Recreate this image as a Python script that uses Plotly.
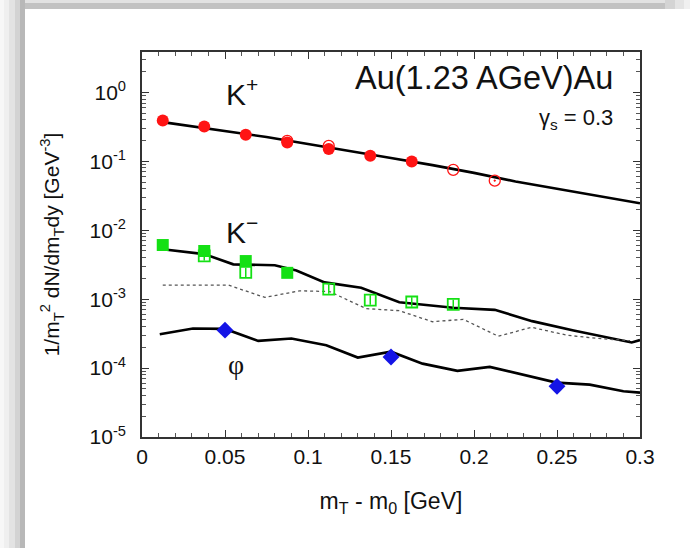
import plotly.graph_objects as go

# ---------------- data ----------------
kp_fill_x = [0.0125, 0.0375, 0.0625, 0.0875, 0.1125, 0.1375, 0.1625]
kp_fill_y = [0.39, 0.32, 0.242, 0.187, 0.151, 0.12, 0.099]
kp_open_x = [0.0875, 0.1125, 0.1875]
kp_open_y = [0.198, 0.167, 0.075]
kp_dot_x = [0.2125]
kp_dot_y = [0.0524]

kp_line_x = [0.0125, 0.025, 0.05, 0.075, 0.1, 0.125, 0.15, 0.175, 0.2, 0.225, 0.25, 0.275, 0.3]
kp_line_y = [0.37, 0.335, 0.28, 0.225, 0.178, 0.142, 0.112, 0.088, 0.068, 0.051, 0.040, 0.032, 0.0246]

km_fill_x = [0.0125, 0.0375, 0.0625, 0.0875]
km_fill_y = [0.0061, 0.0050, 0.00357, 0.00241]
km_open_x = [0.0375, 0.0625, 0.1125, 0.1375, 0.1625, 0.1875]
km_open_y = [0.00426, 0.00244, 0.0014, 0.00097, 0.00091, 0.00084]

km_line_x = [0.0125, 0.0375, 0.055, 0.08, 0.093, 0.11, 0.132, 0.155, 0.1875, 0.2125, 0.235, 0.26, 0.295, 0.3]
km_line_y = [0.0053, 0.0045, 0.0032, 0.0031, 0.0026, 0.00175, 0.00146, 0.0009, 0.00075, 0.0007, 0.00048, 0.00035, 0.000235, 0.000255]

km_dot_x = [0.0125, 0.052, 0.074, 0.095, 0.113, 0.135, 0.155, 0.175, 0.1935, 0.2146, 0.2347, 0.256, 0.274, 0.294]
km_dot_y = [0.0016, 0.0016, 0.00106, 0.00132, 0.00129, 0.00073, 0.00068, 0.00047, 0.00051, 0.00029, 0.00039, 0.0003, 0.00027, 0.00025]

phi_x = [0.05, 0.15, 0.25]
phi_y = [0.000355, 0.000145, 0.0000543]

phi_line_x = [0.0107, 0.0307, 0.05, 0.07, 0.09, 0.111, 0.130, 0.15, 0.169, 0.19, 0.2095, 0.2497, 0.2697, 0.29, 0.3]
phi_line_y = [0.00031, 0.000375, 0.00037, 0.000248, 0.000268, 0.000214, 0.000142, 0.000173, 0.000116,
              0.0000912, 0.000104, 0.0000615, 0.0000575, 0.000046, 0.000044]

y_exponents = [-5, -4, -3, -2, -1, 0]
x_tick_step = 0.05

# ---------------- figure ----------------
RED = "#ff1414"
GREEN = "#14e014"
BLUE = "#1414e6"
FONT = "Liberation Sans, Arial, sans-serif"

fig = go.Figure()

# theory lines
fig.add_trace(go.Scatter(x=kp_line_x, y=kp_line_y, mode="lines",
                         line=dict(color="black", width=2.6)))
fig.add_trace(go.Scatter(x=km_line_x, y=km_line_y, mode="lines",
                         line=dict(color="black", width=2.6)))
fig.add_trace(go.Scatter(x=km_dot_x, y=km_dot_y, mode="lines",
                         line=dict(color="#555555", width=1.3, dash="dot")))
fig.add_trace(go.Scatter(x=phi_line_x, y=phi_line_y, mode="lines",
                         line=dict(color="black", width=2.6)))

# K+ data
fig.add_trace(go.Scatter(x=kp_fill_x, y=kp_fill_y, mode="markers",
                         marker=dict(symbol="circle", size=12, color=RED)))
fig.add_trace(go.Scatter(x=kp_open_x, y=kp_open_y, mode="markers",
                         marker=dict(symbol="circle-open", size=11, color=RED,
                                     line=dict(width=1.3, color=RED))))
fig.add_trace(go.Scatter(x=kp_dot_x, y=kp_dot_y, mode="markers",
                         marker=dict(symbol="circle-open-dot", size=11, color=RED,
                                     line=dict(width=1.3, color=RED))))

# K- data
fig.add_trace(go.Scatter(x=km_fill_x, y=km_fill_y, mode="markers",
                         marker=dict(symbol="square", size=12, color=GREEN)))
fig.add_trace(go.Scatter(x=km_open_x, y=km_open_y, mode="markers",
                         marker=dict(symbol="square-open", size=11, color=GREEN,
                                     line=dict(width=1.8, color=GREEN)),
                         error_y=dict(type="data", symmetric=False,
                                      array=[v * 0.17 for v in km_open_y],
                                      arrayminus=[v * 0.145 for v in km_open_y],
                                      color=GREEN, thickness=1.5, width=0)))

# phi data
fig.add_trace(go.Scatter(x=phi_x, y=phi_y, mode="markers",
                         marker=dict(symbol="diamond", size=13, color=BLUE)))

# axes
minor_y = [m * 10 ** e for e in y_exponents[:-1] for m in range(2, 10)] + [2, 3]
fig.update_xaxes(
    range=[0, 0.3], tick0=0, dtick=x_tick_step, automargin=False,
    ticks="inside", ticklen=7, tickwidth=1.2, tickcolor="#333",
    showline=True, linecolor="#333", linewidth=1.6, mirror="allticks",
    showgrid=False, zeroline=False,
    minor=dict(dtick=0.01, ticks="inside", ticklen=4, tickcolor="#555", tickwidth=1, showgrid=False),
    tickfont=dict(family=FONT, size=21, color="#111"),
    title=dict(text="m<sub>T</sub> - m<sub>0</sub> [GeV]", standoff=26,
               font=dict(family=FONT, size=23, color="#111")),
)
fig.update_yaxes(
    type="log", range=[-5, 0.586], automargin=False,
    tickmode="array", tickvals=[10 ** e for e in y_exponents],
    ticktext=["10<sup>%d</sup>" % e for e in y_exponents],
    ticks="inside", ticklen=7, tickwidth=1.2, tickcolor="#333",
    showline=True, linecolor="#333", linewidth=1.6, mirror="allticks",
    showgrid=False, zeroline=False, ticklabelstandoff=10,
    minor=dict(tickmode="array", tickvals=minor_y, ticks="inside", ticklen=4,
               tickcolor="#555", tickwidth=1, showgrid=False),
    tickfont=dict(family=FONT, size=21, color="#111"),
    title=dict(text="1/m<sub>T</sub><sup>2</sup> dN/dm<sub>T</sub>dy [GeV<sup>-3</sup>]",
               standoff=24, font=dict(family=FONT, size=21, color="#111")),
)

# shadow frame (pixel -> paper)
L, R, T, B = 142.0, 640.0, 52.0, 437.0
def px(x):
    return (x - L) / (R - L)
def py(y):
    return (B - y) / (B - T)

shapes = []
for x0, x1, c in [(0, 4, "#f7f7f7"), (4, 9, "#efefef"), (9, 15, "#e3e3e3"), (15, 20, "#d3d3d3"), (20, 25, "#b8b8b8")]:
    shapes.append(dict(type="rect", xref="paper", yref="paper", x0=px(x0), x1=px(x1), y0=py(548), y1=py(0),
                       fillcolor=c, line=dict(width=0), layer="below"))
for y0, y1, c in [(0, 3, "#e2e2e2"), (3, 9, "#c2c2c2")]:
    shapes.append(dict(type="rect", xref="paper", yref="paper", x0=px(25), x1=px(665), y0=py(y1), y1=py(y0),
                       fillcolor=c, line=dict(width=0), layer="below"))
for x0, x1, c in [(665, 675, "#d4d4d4"), (675, 684, "#e4e4e4"), (684, 690, "#f0f0f0")]:
    shapes.append(dict(type="rect", xref="paper", yref="paper", x0=px(x0), x1=px(x1), y0=py(9), y1=py(0),
                       fillcolor=c, line=dict(width=0), layer="below"))

annotations = [
    dict(text="Au(1.23 AGeV)Au", x=px(615), y=py(78), xanchor="right", yanchor="middle",
         font=dict(family=FONT, size=32.5, color="#111")),
    dict(text="γ<sub>s</sub> = 0.3", x=px(615), y=py(119), xanchor="right", yanchor="middle",
         font=dict(family=FONT, size=22, color="#111")),
    dict(text="K<sup>+</sup>", x=px(224), y=py(92), xanchor="left", yanchor="middle",
         font=dict(family=FONT, size=30, color="#111")),
    dict(text="K<sup>−</sup>", x=px(224), y=py(230), xanchor="left", yanchor="middle",
         font=dict(family=FONT, size=30, color="#111")),
    dict(text="φ", x=px(236), y=py(364), xanchor="center", yanchor="middle",
         font=dict(family="Liberation Serif, DejaVu Serif, serif", size=28, color="#111")),
]
for a in annotations:
    a.update(xref="paper", yref="paper", showarrow=False)

fig.update_layout(
    width=690, height=548,
    margin=dict(l=142, r=50, t=52, b=111),
    paper_bgcolor="white", plot_bgcolor="white",
    showlegend=False,
    shapes=shapes, annotations=annotations,
)

fig.write_html("out.html", config={"displayModeBar": False},
               post_script="document.body.style.margin='0';document.body.style.overflow='hidden';")
